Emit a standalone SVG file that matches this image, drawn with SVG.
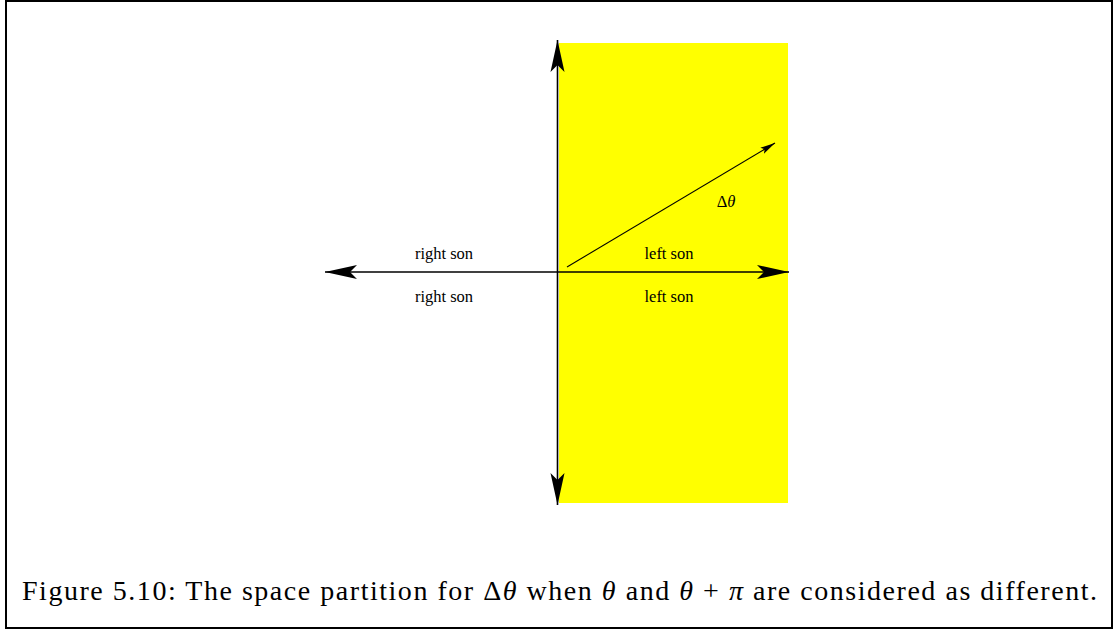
<svg xmlns="http://www.w3.org/2000/svg" width="1113" height="629" viewBox="0 0 1113 629">
<style>
.lbl{font-family:"Liberation Serif","Times New Roman",serif;font-size:16.5px;fill:#000}
.cap{font-family:"Liberation Serif","Times New Roman",serif;font-size:28px;fill:#000}
.ax{stroke:#000;stroke-width:1.6;fill:none}
.thin{stroke:#000;stroke-width:1.1;fill:none}
</style>
<defs>
<marker id="big" markerUnits="userSpaceOnUse" markerWidth="34" markerHeight="16" refX="32" refY="7" orient="auto-start-reverse" viewBox="0 0 34 14">
<path d="M0,0 L32,7 L0,14 L7,7 Z" fill="#000"/>
</marker>
<marker id="small" markerUnits="userSpaceOnUse" markerWidth="16" markerHeight="8" refX="15" refY="3.5" orient="auto" viewBox="0 0 16 7">
<path d="M0,0 L15,3.5 L0,7 L3,3.5 Z" fill="#000"/>
</marker>
</defs>
<rect x="6" y="1" width="1106" height="627" fill="#fff" stroke="#000" stroke-width="2"/>
<g id="region">
<rect x="559" y="43" width="229" height="460" fill="#ffff00"/>
</g>
<g id="connectors">
<line class="ax" x1="557.5" y1="40" x2="557.5" y2="505" marker-start="url(#big)" marker-end="url(#big)"/>
<line class="ax" x1="325" y1="272" x2="789" y2="272" marker-start="url(#big)" marker-end="url(#big)"/>
<line class="thin" x1="567" y1="267" x2="775" y2="143" marker-end="url(#small)"/>
</g>
<g id="labels">
<text class="lbl" x="444" y="259" text-anchor="middle">right son</text>
<text class="lbl" x="444" y="302" text-anchor="middle">right son</text>
<text class="lbl" x="669" y="259" text-anchor="middle">left son</text>
<text class="lbl" x="669" y="302" text-anchor="middle">left son</text>
<text class="lbl" x="726" y="207" text-anchor="middle">Δ<tspan font-style="italic">θ</tspan></text>
</g>
<g id="caption">
<text class="cap" x="22" y="600" textLength="1075" lengthAdjust="spacing">Figure 5.10: The space partition for Δ<tspan font-style="italic">θ</tspan> when <tspan font-style="italic">θ</tspan> and <tspan font-style="italic">θ</tspan> + <tspan font-style="italic">π</tspan> are considered as different.</text>
</g>
</svg>
